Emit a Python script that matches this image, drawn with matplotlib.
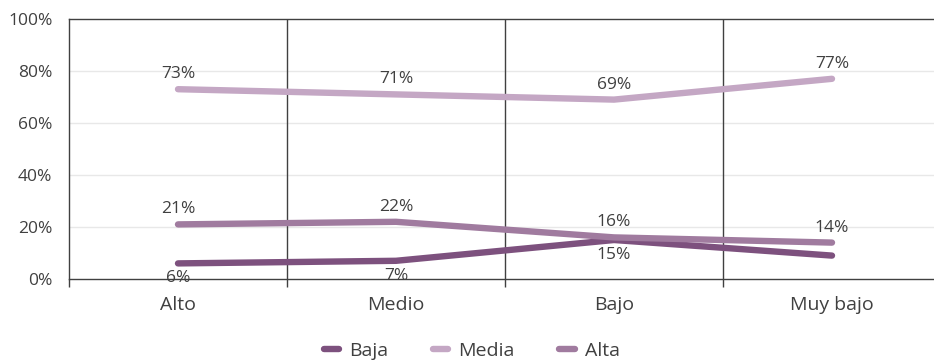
import matplotlib.pyplot as plt
import numpy as np

# Datos
categorias = ["Alto", "Medio", "Bajo", "Muy bajo"]
baja = [6, 7, 15, 9]
media = [73, 71, 69, 77]
alta = [21, 22, 16, 14]
etiquetas_baja = ["6%", "7%", "15%", None]
etiquetas_media = ["73%", "71%", "69%", "77%"]
etiquetas_alta = ["21%", "22%", "16%", "14%"]

col_baja = "#7D517E"
col_media = "#C4A7C4"
col_alta = "#A07B9F"
gris = "#404040"

plt.rcParams['font.family'] = ['Open Sans', 'DejaVu Sans']

fig = plt.figure(figsize=(9.34, 3.61), dpi=100)
ax = fig.add_axes([69/934, 1-279/361, 872/934, 260/361])

x = np.arange(len(categorias))
for y, c, lab in [(baja, col_baja, "Baja"), (media, col_media, "Media"), (alta, col_alta, "Alta")]:
    ax.plot(x, y, color=c, lw=4.6, solid_capstyle="round", solid_joinstyle="round", label=lab, zorder=3)

# Etiquetas de valores
for xi, v, t in zip(x, media, etiquetas_media):
    ax.annotate(t, (xi, v), xytext=(0, 5), textcoords="offset points", ha="center", va="bottom", fontsize=12.5, color=gris)
for xi, v, t in zip(x, alta, etiquetas_alta):
    ax.annotate(t, (xi, v), xytext=(0, 5), textcoords="offset points", ha="center", va="bottom", fontsize=12.5, color=gris)
for xi, v, t in zip(x, baja, etiquetas_baja):
    if t:
        ax.annotate(t, (xi, v), xytext=(0, -5), textcoords="offset points", ha="center", va="top", fontsize=12.5, color=gris)

ax.set_xlim(-0.5, 3.5)
ax.set_ylim(0, 100)
ax.set_yticks(range(0, 101, 20))
ax.set_yticklabels([f"{v}%" for v in range(0, 101, 20)], fontsize=12.5, color=gris)
ax.tick_params(axis="y", length=0, pad=12)
ax.set_xticks(x)
ax.set_xticklabels(categorias, fontsize=14, color=gris)
ax.tick_params(axis="x", which="major", length=0, pad=12)
ax.set_xticks([-0.5, 0.5, 1.5, 2.5], minor=True)
ax.tick_params(axis="x", which="minor", length=6, width=1, color=gris)

for g in range(20, 100, 20):
    ax.axhline(g, color="#e8e8e8", lw=1, zorder=1)
for s in [0.5, 1.5, 2.5]:
    ax.axvline(s, color=gris, lw=1, zorder=2)

for k in ["left", "bottom", "top"]:
    ax.spines[k].set_color(gris)
    ax.spines[k].set_linewidth(1)
ax.spines["right"].set_visible(False)

leg = fig.legend(loc="lower center", bbox_to_anchor=(0.505, -0.045), ncol=3, frameon=False,
                 fontsize=14, handlelength=0.8, columnspacing=2.3, handletextpad=0.5)
for t in leg.get_texts():
    t.set_color(gris)

fig.savefig("out.png", dpi=100)
